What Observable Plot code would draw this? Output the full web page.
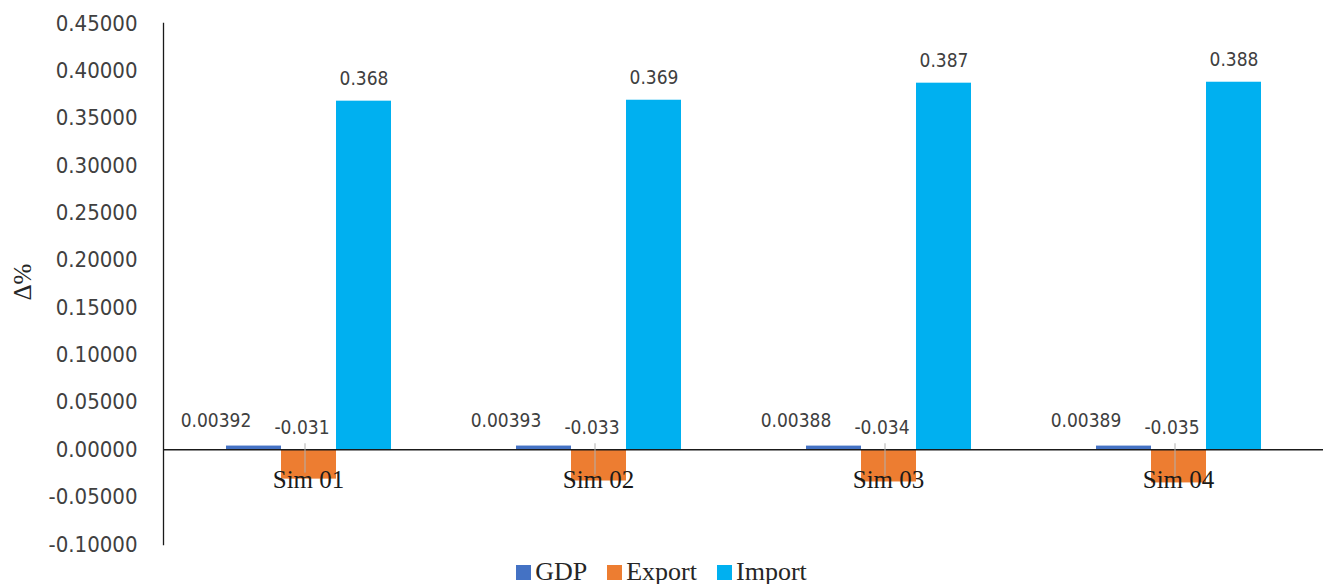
<!DOCTYPE html>
<html>
<head>
<meta charset="utf-8">
<script src="https://cdn.jsdelivr.net/npm/d3@7"></script>
<script src="https://cdn.jsdelivr.net/npm/@observablehq/plot@0.6"></script>
<style>
  html, body { margin: 0; padding: 0; background: #fff; }
  #wrap { position: relative; width: 1323px; }
  #ylab { position: absolute; left: 23px; top: 282px; transform: translate(-50%, -50%) rotate(-90deg);
          font-family: "Liberation Serif", "Times New Roman", serif; font-size: 25px; color: #262626; white-space: nowrap; }
  #legend { display: flex; justify-content: center; align-items: center; width: 1323px; height: 24px;
            font-family: "Liberation Serif", "Times New Roman", serif; font-size: 26px; color: #262626; }
  .item { display: flex; align-items: center; margin: 0 10px; }
  .sw { width: 15px; height: 15px; margin-right: 4px; }
</style>
</head>
<body>
<div id="wrap">
  <div id="chart"></div>
  <div id="ylab">Δ%</div>
  <div id="legend"></div>
</div>
<script>
// ---- data ----
const categories = ["Sim 01", "Sim 02", "Sim 03", "Sim 04"];
const series = ["GDP", "Export", "Import"];
const gdp = [0.00392, 0.00393, 0.00388, 0.00389];
const exportVals = [-0.031, -0.033, -0.034, -0.035];
const importVals = [0.368, 0.369, 0.387, 0.388];
const gdpLabels = ["0.00392", "0.00393", "0.00388", "0.00389"];
const exportLabels = ["-0.031", "-0.033", "-0.034", "-0.035"];
const importLabels = ["0.368", "0.369", "0.387", "0.388"];
const yTicks = [0.45, 0.40, 0.35, 0.30, 0.25, 0.20, 0.15, 0.10, 0.05, 0.00, -0.05, -0.10];
const colors = ["#4472C4", "#ED7D31", "#00B0F0"];

// ---- table ----
const rows = [];
categories.forEach((c, i) => {
  rows.push({sim: c, series: "GDP", value: gdp[i], label: gdpLabels[i]});
  rows.push({sim: c, series: "Export", value: exportVals[i], label: exportLabels[i]});
  rows.push({sim: c, series: "Import", value: importVals[i], label: importLabels[i]});
});
const bySeries = s => rows.filter(r => r.series === s);

const sans = "'DejaVu Sans Condensed', 'DejaVu Sans', sans-serif";
const serif = "'Liberation Serif', 'Times New Roman', serif";

const plot = Plot.plot({
  width: 1323,
  height: 560,
  marginTop: 23,
  marginBottom: 16,
  marginLeft: 163,
  marginRight: 0,
  fx: {domain: categories, padding: 0, axis: null},
  x: {domain: series, paddingInner: 0, paddingOuter: 1.12, axis: null},
  y: {domain: [-0.10, 0.45], axis: null},
  color: {domain: series, range: colors},
  marks: [
    Plot.barY(rows, {fx: "sim", x: "series", y: "value", fill: "series"}),
    Plot.ruleY([0], {stroke: "#1a1a1a", strokeWidth: 1.3}),
    Plot.frame({anchor: "left", facetAnchor: "left", stroke: "#1a1a1a", strokeWidth: 1.3}),
    Plot.axisY({ticks: yTicks, tickFormat: d => d.toFixed(5), tickSize: 0, tickPadding: 26,
                fontSize: 22, fontFamily: sans, color: "#404040", label: null}),
    // leader lines for export labels
    Plot.ruleX(bySeries("Export"), {fx: "sim", x: "series", y1: 0, y2: "value", dx: -4, dy: -6,
                stroke: "#b0b0b0", strokeWidth: 1}),
    // category labels
    Plot.text(categories, {fx: d => d, y: 0, text: d => d, dy: 30, fontSize: 25, fontFamily: serif, fill: "#1a1a1a"}),
    // data labels
    Plot.text(bySeries("Import"), {fx: "sim", x: "series", y: "value", text: "label", lineAnchor: "bottom", dy: -16,
                fontSize: 19, fontFamily: sans, fill: "#404040"}),
    Plot.text(bySeries("GDP"), {fx: "sim", x: "series", y: "value", text: "label", dx: -38, dy: -25,
                fontSize: 19, fontFamily: sans, fill: "#404040"}),
    Plot.text(bySeries("Export"), {fx: "sim", x: "series", y: 0, text: "label", dx: -7, dy: -22,
                fontSize: 19, fontFamily: sans, fill: "#404040"})
  ]
});
document.getElementById("chart").appendChild(plot);

const legend = document.getElementById("legend");
series.forEach((s, i) => {
  const item = document.createElement("div");
  item.className = "item";
  const sw = document.createElement("div");
  sw.className = "sw";
  sw.style.background = colors[i];
  const t = document.createElement("span");
  t.textContent = s;
  item.appendChild(sw);
  item.appendChild(t);
  legend.appendChild(item);
});
</script>
</body>
</html>
